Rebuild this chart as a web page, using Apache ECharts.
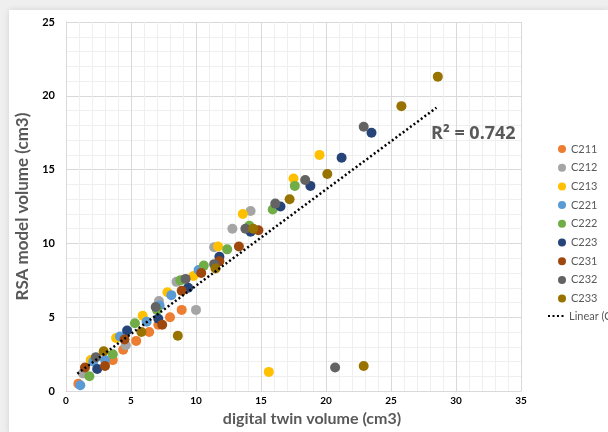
<!DOCTYPE html>
<html>
<head>
<meta charset="utf-8">
<script src="https://cdn.jsdelivr.net/npm/echarts@6/dist/echarts.min.js"></script>
<style>
  html, body { margin: 0; padding: 0; background: #efefef; }
  #chart { width: 608px; height: 432px; }
</style>
</head>
<body>
<div id="chart"></div>
<script>
// points per sample: [digital twin, RSA model]
var C211 = [[0.95, 0.5], [3.6, 2.1], [4.4, 2.8], [5.4, 3.4], [6.4, 4.0], [7.1, 4.5], [8.0, 5.0], [8.9, 5.5]];
var C212 = [[1.3, 1.2], [4.6, 3.1], [7.15, 6.1], [8.5, 7.4], [10.0, 5.5], [11.4, 9.75], [12.8, 11.0], [14.2, 12.2]];
var C213 = [[1.9, 2.1], [3.85, 3.6], [5.9, 5.1], [7.8, 6.7], [9.8, 7.8], [11.7, 9.8], [13.6, 12.0], [15.6, 1.3], [17.5, 14.4], [19.5, 16.0]];
var C221 = [[1.1, 0.4], [2.1, 2.0], [3.0, 2.1], [4.15, 3.7], [6.2, 4.7], [7.2, 5.8], [8.1, 6.5], [10.2, 8.2]];
var C222 = [[1.8, 1.0], [3.6, 2.5], [5.3, 4.6], [7.0, 5.5], [8.8, 7.5], [10.6, 8.5], [12.4, 9.6], [14.1, 11.2], [15.9, 12.3], [17.6, 13.9]];
var C223 = [[2.4, 1.5], [4.7, 4.1], [7.1, 4.9], [9.4, 7.0], [11.8, 9.1], [14.2, 10.8], [16.5, 12.5], [18.8, 13.9], [21.2, 15.8], [23.5, 17.5]];
var C231 = [[1.46, 1.6], [3.0, 1.7], [4.5, 3.5], [7.4, 4.5], [8.9, 6.8], [10.4, 8.0], [11.8, 8.8], [13.3, 9.8], [14.8, 10.9]];
var C232 = [[2.3, 2.3], [6.9, 5.7], [9.2, 7.6], [11.4, 8.6], [13.8, 11.0], [16.1, 12.7], [18.4, 14.3], [20.7, 1.6], [22.9, 17.9]];
var C233 = [[2.9, 2.7], [5.8, 4.0], [8.6, 3.75], [11.5, 8.3], [14.4, 11.0], [17.2, 13.0], [20.1, 14.7], [22.9, 1.7], [25.8, 19.3], [28.6, 21.3]];

var trendX = [0.87, 28.5];
var trendY = [1.18, 19.2];

var names = ['C211', 'C212', 'C213', 'C221', 'C222', 'C223', 'C231', 'C232', 'C233'];
var data = [C211, C212, C213, C221, C222, C223, C231, C232, C233];
var colors = ['#ED7D31', '#A5A5A5', '#FFC000', '#5B9BD5', '#70AD47', '#264478', '#9E480E', '#636363', '#997300'];

var font = 'Lato, "Open Sans", sans-serif';

var series = names.map(function (n, i) {
    return {
        name: n,
        type: 'scatter',
        symbol: 'circle',
        symbolSize: 10,
        itemStyle: { color: colors[i], opacity: 1 },
        data: data[i]
    };
});
series.push({
    name: 'Linear (C233)',
    type: 'line',
    symbol: 'none',
    itemStyle: { color: '#000' },
    lineStyle: { color: '#000', width: 2.5, type: [2, 2.5] },
    data: trendX.map(function (x, i) { return [x, trendY[i]]; }),
    z: 3
});

var myChart = echarts.init(document.getElementById('chart'));

var option = {
    backgroundColor: '#efefef',
    animation: false,
    textStyle: { fontFamily: font },
    graphic: [
        { type: 'rect', left: 9, top: 10, z: -10, silent: true,
          shape: { width: 600, height: 424 },
          style: { fill: '#fff', shadowBlur: 6, shadowColor: 'rgba(0,0,0,0.12)' } },
        { type: 'text', left: 431, top: 125, z: 10,
          style: { text: 'R² = 0.742', fill: '#595959', font: 'bold 18px "Open Sans", sans-serif' } }
    ],
    grid: { left: 66, right: 87, top: 22, bottom: 35 },
    legend: [
        { data: names, orient: 'vertical', left: 553, top: 138,
          itemWidth: 8, itemHeight: 8, itemGap: 6.7, icon: 'circle',
          textStyle: { color: '#595959', fontSize: 11, fontFamily: font, lineHeight: 12 } },
        { data: ['Linear (C233)'], left: 542, top: 305,
          itemWidth: 16, itemHeight: 8,
          itemStyle: { opacity: 0 },
          textStyle: { color: '#595959', fontSize: 11, fontFamily: font, lineHeight: 12 } }
    ],
    xAxis: {
        type: 'value', min: 0, max: 35, interval: 5,
        name: 'digital twin volume (cm3)', nameLocation: 'middle', nameGap: 14,
        nameTextStyle: { color: '#595959', fontSize: 16, fontWeight: 'bold', padding: [0, 0, 0, 37] },
        axisLine: { lineStyle: { color: '#d9d9d9' } },
        axisTick: { show: false },
        axisLabel: { color: '#000', fontSize: 10, fontWeight: 'bold', margin: 5 },
        splitLine: { lineStyle: { color: '#d9d9d9' } },
        minorTick: { show: false, splitNumber: 5 },
        minorSplitLine: { show: true, lineStyle: { color: '#efefef' } }
    },
    yAxis: {
        type: 'value', min: 0, max: 25, interval: 5,
        name: 'RSA model volume (cm3)', nameLocation: 'middle', nameGap: 35,
        nameTextStyle: { color: '#595959', fontSize: 17, fontWeight: 'bold' },
        axisLine: { show: true, lineStyle: { color: '#d9d9d9' } },
        axisTick: { show: false },
        axisLabel: { color: '#000', fontSize: 11, fontWeight: 'bold', margin: 11 },
        splitLine: { lineStyle: { color: '#d9d9d9' } },
        minorTick: { show: false, splitNumber: 5 },
        minorSplitLine: { show: true, lineStyle: { color: '#efefef' } }
    },
    series: series
};

myChart.setOption(option);
</script>
</body>
</html>
